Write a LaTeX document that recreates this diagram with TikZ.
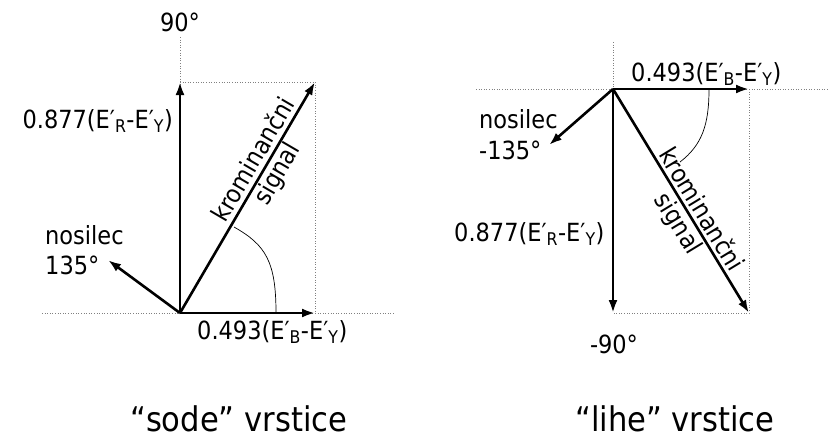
\documentclass[tikz,border=0pt]{standalone}
\usepackage{fontspec}
\setmainfont{DejaVu Sans Condensed}
\usetikzlibrary{arrows.meta}
\begin{document}
\begin{tikzpicture}[x=1pt,y=-1pt,
  vec/.style={line width=2.6pt,-{Latex[length=13pt,width=9pt]}},
  guide/.style={gray,line width=0.6pt,dotted},
  lbl/.style={font=\fontsize{25}{27}\selectfont,inner sep=0pt},
  captxt/.style={font=\fontsize{34}{36}\selectfont,inner sep=0pt,anchor=base west},
  rot/.style={font=\fontsize{25}{27}\selectfont,inner sep=0pt,align=center}]
\useasboundingbox (0,0) rectangle (832,437);
% ---------- left diagram ----------
\coordinate (O1) at (180,313);
\coordinate (Y1) at (180,82);
\coordinate (X1) at (315,82);
\coordinate (B1) at (315,313);
\coordinate (N1) at (108,260);
\coordinate (T1) at (180,37);
\coordinate (L1) at (42,313);
\coordinate (R1) at (395,313);
\draw[guide] (T1) -- (O1);
\draw[guide] (L1) -- (R1);
\draw[guide] (Y1) -- (X1) -- (B1);
\draw[vec] (O1) -- (Y1);
\draw[vec] (O1) -- (B1);
\draw[vec] (O1) -- (X1);
\draw[vec] (O1) -- (N1);
\coordinate (A1s) at (276,313);
\coordinate (A1e) at (234,227);
\draw[line width=0.7pt] (A1s) .. controls (276,262) and (266,245) .. (A1e);
\node[lbl,anchor=base] (t90) at (180,31) {90°};
\node[lbl,anchor=base east] (tR1) at (173,128) {0.877(E′\textsubscript{R}-E′\textsubscript{Y})};
\node[lbl,anchor=base west] (tn1) at (45,244) {nosilec};
\node[lbl,anchor=base west] (tn1b) at (45,274) {135°};
\node[lbl,anchor=base west] (tB1) at (197,339) {0.493(E′\textsubscript{B}-E′\textsubscript{Y})};
\node[rot,rotate=59.7] (ks1) at (266,167) {krominančni\\signal};
% ---------- right diagram ----------
\coordinate (O2) at (613,89);
\coordinate (X2) at (749,89);
\coordinate (Y2) at (613,313);
\coordinate (D2) at (749,313);
\coordinate (N2) at (549,145);
\coordinate (T2) at (613,42);
\coordinate (L2) at (476,89);
\coordinate (R2) at (829,89);
\draw[guide] (T2) -- (O2);
\draw[guide] (L2) -- (R2);
\draw[guide] (X2) -- (D2) -- (Y2);
\draw[vec] (O2) -- (X2);
\draw[vec] (O2) -- (Y2);
\draw[vec] (O2) -- (D2);
\draw[vec] (O2) -- (N2);
\coordinate (A2s) at (709,89);
\coordinate (A2e) at (680,162);
\draw[line width=0.7pt] (A2s) .. controls (709,125) and (702,145) .. (A2e);
\node[lbl,anchor=base west] (tB2) at (631,81) {0.493(E′\textsubscript{B}-E′\textsubscript{Y})};
\node[lbl,anchor=base west] (tn2) at (479,128) {nosilec};
\node[lbl,anchor=base west] (tn2b) at (479,159) {-135°};
\node[lbl,anchor=base west] (tR2) at (454,241) {0.877(E′\textsubscript{R}-E′\textsubscript{Y})};
\node[lbl,anchor=base] (tm90) at (614,353) {-90°};
\node[rot,rotate=-58.7] (ks2) at (689,217) {krominančni\\signal};
% ---------- captions ----------
\node[captxt] (c1) at (130,431) {“sode” vrstice};
\node[captxt] (c2) at (575,431) {“lihe” vrstice};
\end{tikzpicture}
\end{document}
